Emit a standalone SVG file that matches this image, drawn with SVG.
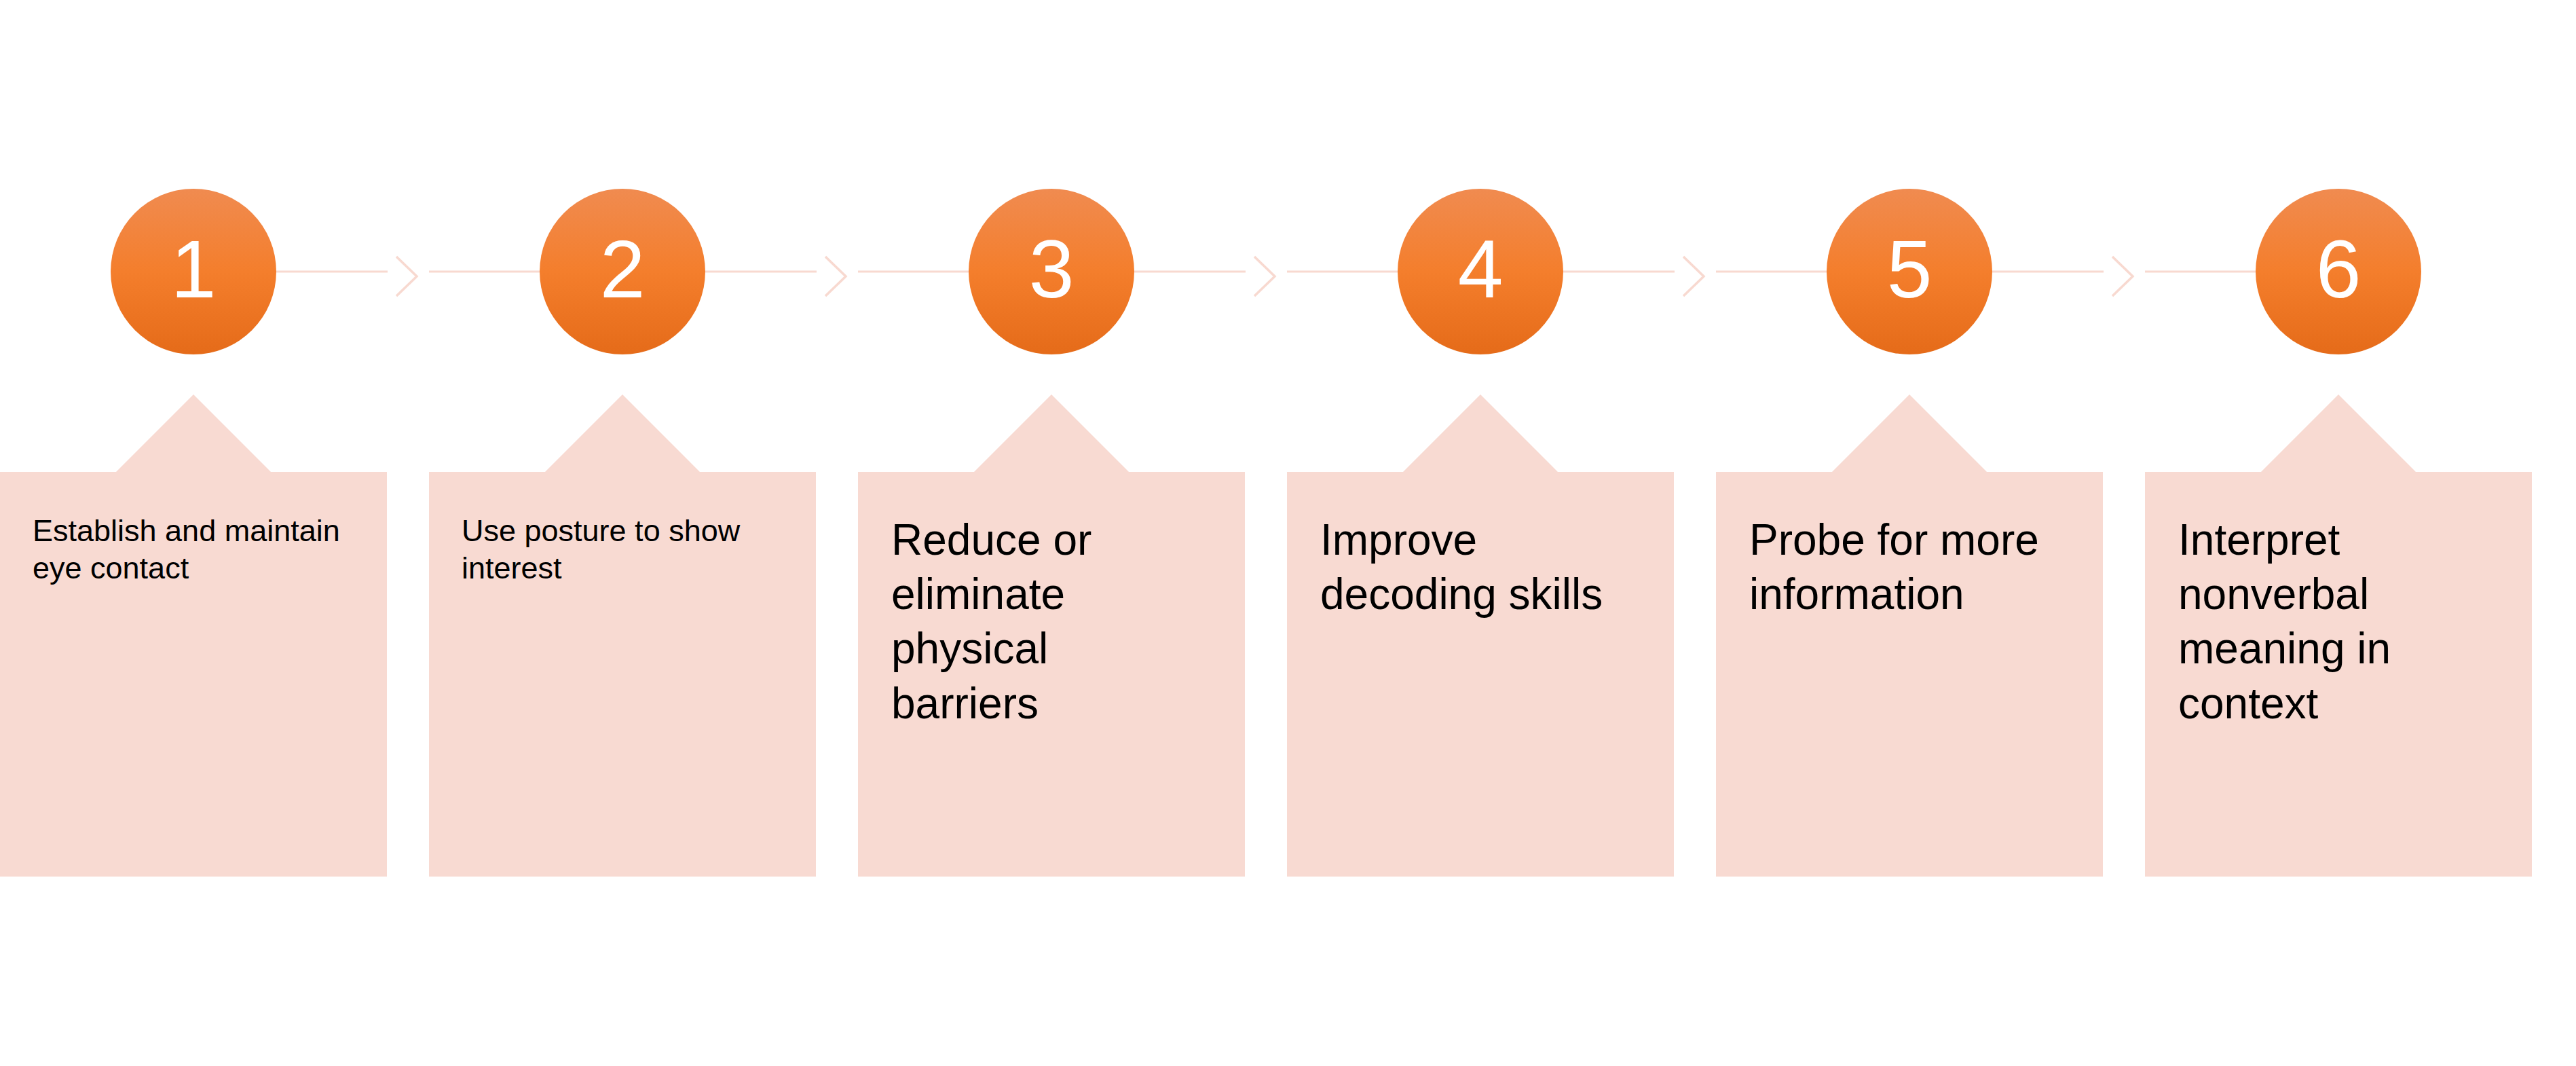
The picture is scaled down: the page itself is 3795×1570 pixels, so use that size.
<svg xmlns="http://www.w3.org/2000/svg" width="3795" height="1570" viewBox="0 0 3795 1570">
<defs>
<linearGradient id="og" x1="0" y1="0" x2="0" y2="1">
<stop offset="0" stop-color="#F08B50"/>
<stop offset="0.5" stop-color="#F47E2C"/>
<stop offset="1" stop-color="#E56B19"/>
</linearGradient>
<style>
.box{fill:#F8DAD2;}
.circ{fill:url(#og);}
.num{font-family:"Liberation Sans",Arial,sans-serif;font-size:120px;fill:#FFFFFF;text-anchor:middle;}
.sm{font-family:"Liberation Sans",Arial,sans-serif;font-size:45px;fill:#000000;}
.lg{font-family:"Liberation Sans",Arial,sans-serif;font-size:64px;fill:#000000;}
.ln{stroke:#F8D9D0;stroke-width:3;fill:none;}
.ch{stroke:#F8D9D0;stroke-width:3.5;fill:none;}
</style>
</defs>
<rect width="3795" height="1570" fill="#FFFFFF"/>
<g id="connectors">
<line class="ln" x1="407" y1="400" x2="571" y2="400"/>
<polyline class="ch" points="584,378 614,407 584,436"/>
<line class="ln" x1="632" y1="400" x2="795" y2="400"/>
<line class="ln" x1="1039" y1="400" x2="1203" y2="400"/>
<polyline class="ch" points="1216,378 1246,407 1216,436"/>
<line class="ln" x1="1264" y1="400" x2="1427" y2="400"/>
<line class="ln" x1="1671" y1="400" x2="1835" y2="400"/>
<polyline class="ch" points="1848,378 1878,407 1848,436"/>
<line class="ln" x1="1896" y1="400" x2="2059" y2="400"/>
<line class="ln" x1="2303" y1="400" x2="2467" y2="400"/>
<polyline class="ch" points="2480,378 2510,407 2480,436"/>
<line class="ln" x1="2528" y1="400" x2="2691" y2="400"/>
<line class="ln" x1="2935" y1="400" x2="3099" y2="400"/>
<polyline class="ch" points="3112,378 3142,407 3112,436"/>
<line class="ln" x1="3160" y1="400" x2="3323" y2="400"/>
</g>
<g id="node1">
<circle class="circ" cx="285" cy="400" r="122"/>
<text class="num" x="285" y="438">1</text>
<polygon class="box" points="0,695 171,695 285,581 399,695 570,695 570,1291 0,1291"/>
<text class="sm" x="48" y="797">Establish and maintain</text>
<text class="sm" x="48" y="852">eye contact</text>
</g>
<g id="node2">
<circle class="circ" cx="917" cy="400" r="122"/>
<text class="num" x="917" y="438">2</text>
<polygon class="box" points="632,695 803,695 917,581 1031,695 1202,695 1202,1291 632,1291"/>
<text class="sm" x="680" y="797">Use posture to show</text>
<text class="sm" x="680" y="852">interest</text>
</g>
<g id="node3">
<circle class="circ" cx="1549" cy="400" r="122"/>
<text class="num" x="1549" y="438">3</text>
<polygon class="box" points="1264,695 1435,695 1549,581 1663,695 1834,695 1834,1291 1264,1291"/>
<text class="lg" x="1313" y="817">Reduce or</text>
<text class="lg" x="1313" y="897">eliminate</text>
<text class="lg" x="1313" y="977">physical</text>
<text class="lg" x="1313" y="1058">barriers</text>
</g>
<g id="node4">
<circle class="circ" cx="2181" cy="400" r="122"/>
<text class="num" x="2181" y="438">4</text>
<polygon class="box" points="1896,695 2067,695 2181,581 2295,695 2466,695 2466,1291 1896,1291"/>
<text class="lg" x="1945" y="817">Improve</text>
<text class="lg" x="1945" y="897">decoding skills</text>
</g>
<g id="node5">
<circle class="circ" cx="2813" cy="400" r="122"/>
<text class="num" x="2813" y="438">5</text>
<polygon class="box" points="2528,695 2699,695 2813,581 2927,695 3098,695 3098,1291 2528,1291"/>
<text class="lg" x="2577" y="817">Probe for more</text>
<text class="lg" x="2577" y="897">information</text>
</g>
<g id="node6">
<circle class="circ" cx="3445" cy="400" r="122"/>
<text class="num" x="3445" y="438">6</text>
<polygon class="box" points="3160,695 3331,695 3445,581 3559,695 3730,695 3730,1291 3160,1291"/>
<text class="lg" x="3209" y="817">Interpret</text>
<text class="lg" x="3209" y="897">nonverbal</text>
<text class="lg" x="3209" y="977">meaning in</text>
<text class="lg" x="3209" y="1058">context</text>
</g>
</svg>
